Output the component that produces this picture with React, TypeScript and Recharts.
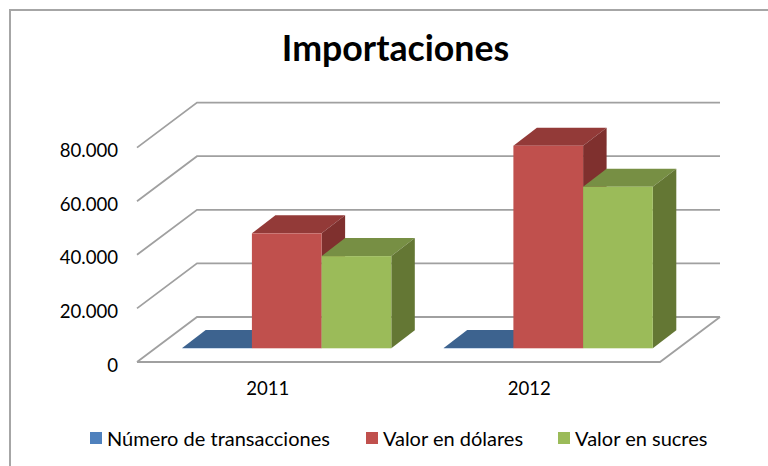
import { BarChart, Bar, XAxis, YAxis, CartesianGrid, Legend } from "recharts";

const years = ["2011", "2012"];
const transacciones = [110, 130];
const dolares = [42900, 75600];
const sucres = [34400, 60300];
const yTicks = [0, 20000, 40000, 60000, 80000];

const data = years.map((year, i) => ({
  year,
  transacciones: transacciones[i],
  dolares: dolares[i],
  sucres: sucres[i],
}));

const FONT = "Lato, 'Open Sans', sans-serif";
const GRID = "#a0a0a0";

// depth of the back wall and of the bars, the fake 3d look
const WALL_X = 60;
const WALL_Y = 45;
const BAR_DX = 23.5;
const BAR_DY = 18;
const SHIFT_X = 19.2;
const SHIFT_Y = 13.7;

const formatTick = (v: number) => String(v).replace(/\B(?=(\d{3})+$)/g, ".");

const bar3d = (top: string, side: string) => (props: any) => {
  const { fill, width } = props;
  const x = props.x + SHIFT_X;
  const y = props.y - SHIFT_Y;
  const h = props.height;
  return (
    <g>
      <polygon
        points={`${x},${y} ${x + BAR_DX},${y - BAR_DY} ${x + width + BAR_DX},${y - BAR_DY} ${x + width},${y}`}
        fill={top}
      />
      <polygon
        points={`${x + width},${y} ${x + width + BAR_DX},${y - BAR_DY} ${x + width + BAR_DX},${y + h - BAR_DY} ${x + width},${y + h}`}
        fill={side}
      />
      <rect x={x} y={y} width={width} height={h} fill={fill} />
    </g>
  );
};

const gridLine = (props: any) => {
  const { x1, x2, y1, index } = props;
  const bx = x1 + WALL_X;
  const by = y1 - WALL_Y;
  const isFloor = y1 > 350;
  return (
    <g key={index} fill="none" stroke={GRID} strokeWidth={1.8}>
      <polyline points={`${x1},${y1} ${bx},${by} ${x2 + WALL_X},${by}`} />
      {isFloor && <polyline points={`${x1},${y1} ${x2},${y1} ${x2 + WALL_X},${by}`} />}
    </g>
  );
};

const legendContent = (props: any) => {
  const gaps = [36, 35, 0];
  return (
    <div style={{ display: "flex", marginLeft: 90, fontFamily: FONT, fontSize: 20, color: "#000", lineHeight: "24px", whiteSpace: "nowrap" }}>
      {props.payload.map((item: any, i: number) => (
        <div key={item.value} style={{ display: "flex", alignItems: "center", marginRight: gaps[i] }}>
          <span style={{ width: 12, height: 12, background: item.color, marginRight: 5 }} />
          {item.value}
        </div>
      ))}
    </div>
  );
};

export default function App() {
  return (
    <div style={{ position: "absolute", left: 0, top: 0, width: 768, height: 466, background: "#fff" }}>
      <BarChart
        width={768}
        height={466}
        data={data}
        barSize={69.7}
        barGap={0}
        margin={{ top: 147.6, right: 108, bottom: 50, left: 0 }}
      >
        <rect x={10} y={10} width={900} height={700} fill="none" stroke="#a6a6a6" strokeWidth={2} />
        <text x={395.5} y={61} textAnchor="middle" fontFamily={FONT} fontWeight={700} fontSize={35.7} fill="#000">
          Importaciones
        </text>
        <CartesianGrid vertical={false} horizontal={gridLine} />
        <XAxis
          dataKey="year"
          axisLine={false}
          tickLine={false}
          tickSize={0}
          tickMargin={20}
          height={30}
          tick={{ fontFamily: FONT, fontSize: 18.6, fill: "#000" }}
        />
        <YAxis
          width={137}
          domain={[0, 80000]}
          ticks={yTicks}
          axisLine={false}
          tickLine={false}
          tickSize={0}
          tickMargin={19}
          tickFormatter={formatTick}
          tick={{ fontFamily: FONT, fontSize: 18.6, fill: "#000", dy: 3 }}
        />
        <Legend
          height={24}
          content={legendContent}
          wrapperStyle={{ left: 0, top: 425.5, width: 768 }}
        />
        <Bar
          dataKey="transacciones"
          name="Número de transacciones"
          fill="#4f81bd"
          shape={bar3d("#3d638f", "#2f4d70")}
          isAnimationActive={false}
        />
        <Bar
          dataKey="dolares"
          name="Valor en dólares"
          fill="#c0504d"
          shape={bar3d("#933a38", "#7f302e")}
          isAnimationActive={false}
        />
        <Bar
          dataKey="sucres"
          name="Valor en sucres"
          fill="#9bbb59"
          shape={bar3d("#778f44", "#647734")}
          isAnimationActive={false}
        />
      </BarChart>
    </div>
  );
}
